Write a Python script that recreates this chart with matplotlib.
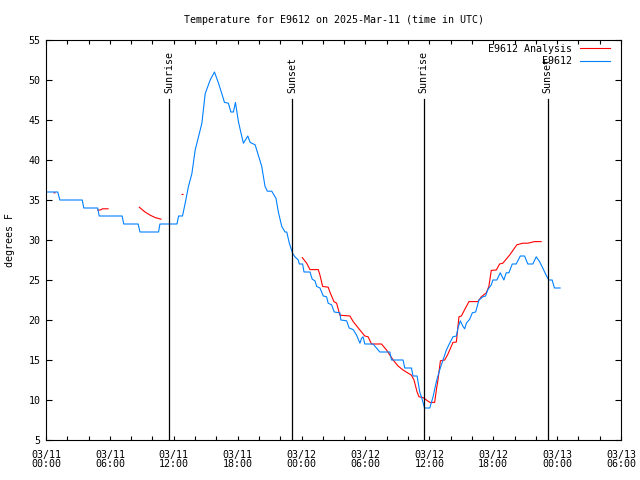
import numpy as np
import matplotlib
matplotlib.use("Agg")
import matplotlib.pyplot as plt
from matplotlib.ticker import FixedLocator, MultipleLocator

# ---- data (hours since 2025-03-11 00:00 UTC, degrees F) ----
obs_hours = [0.15, 1.1, 1.3, 3.4, 3.55, 4.85, 5.0, 7.15, 7.3, 8.65, 8.83, 10.57, 10.7,
             12.3, 12.45, 12.82, 13.07, 13.38, 13.7, 14.01, 14.32, 14.64, 14.95, 15.42,
             15.82, 16.2, 16.51, 16.76, 17.13, 17.36, 17.6, 17.79, 18.07, 18.29, 18.54,
             18.95, 19.17, 19.64, 19.94, 20.26, 20.57, 20.79, 21.2, 21.6, 21.82, 22.14,
             22.45, 22.61, 22.85, 23.17, 23.38, 23.69, 23.79, 24.1, 24.23, 24.79, 25.0,
             25.26, 25.42, 25.73, 26.04, 26.35, 26.5, 26.82, 27.07, 27.6, 27.69, 28.23,
             28.47, 28.85, 29.17, 29.48, 29.63, 29.78, 29.94, 30.72, 31.04, 31.35, 32.29,
             32.45, 33.53, 33.69, 34.32, 34.47, 34.85, 35.1, 35.3, 35.55, 36.04, 36.35,
             36.66, 36.97, 37.28, 37.6, 37.91, 38.22, 38.54, 38.69, 38.91, 39.16, 39.32,
             39.48, 39.79, 40.04, 40.35, 40.66, 41.03, 41.28, 41.5, 41.82, 41.97, 42.34,
             42.66, 43.0, 43.22, 43.47, 43.79, 44.16, 44.54, 44.94, 45.25, 45.72, 46.04,
             46.35, 46.65, 46.97, 47.22, 47.53, 47.75, 48.28]
obs_temps = [36, 36, 35, 35, 34, 34, 33, 33, 32, 32, 31, 31, 32,
             32, 33, 33, 34.6, 36.7, 38.3, 41.25, 42.9, 44.6, 48.3, 50,
             51, 49.6, 48.3, 47.2, 47.1, 46, 46, 47.2, 44.8, 43.5, 42.1,
             43, 42.2, 41.9, 40.6, 39.2, 36.7, 36.1, 36.1, 35.2, 33.5, 31.7,
             31, 31, 29.6, 28.3, 27.9, 27.5, 27.0, 27.0, 26.0, 26.0, 25.1,
             24.9, 24.2, 24.0, 23.0, 22.9, 22.1, 21.9, 21.0, 20.9, 20.0, 19.9,
             19.0, 18.8, 18.1, 17.1, 17.7, 17.9, 17.0, 17.0, 16.5, 16.0, 16.0,
             15.0, 15.0, 14.0, 14.0, 13.0, 13.0, 11.0, 10.2, 9.0, 9.0, 10.4,
             12.3, 13.75, 15.0, 16.25, 17.1, 17.9, 18.0, 19.0, 19.9, 19.2, 18.9,
             19.6, 20.1, 20.9, 21.0, 22.5, 22.9, 23.0, 23.8, 24.4, 25.0, 25.0,
             25.9, 25.0, 25.9, 25.9, 27.0, 27.0, 28.0, 28.0, 27.0, 27.0, 27.9,
             27.3, 26.5, 25.6, 25.0, 25.0, 24.0, 24.0]

ana_hours = [0.75, 0.85, np.nan,
             4.85, 5.1, 5.3, 5.83, np.nan,
             8.76, 9.3, 9.79, 10.26, 10.8, np.nan,
             12.78, 12.86, np.nan,
             24.07, 24.48, 24.79, 25.57, 25.73, 25.98, 26.5, 26.66, 27.04, 27.29, 27.6,
             28.54, 28.85, 29.48, 29.94, 30.25, 30.57, 31.51, 31.98, 32.6, 33.06, 33.53,
             34.32, 34.56, 34.85, 35.03, 35.41, 36.04, 36.5, 36.66, 36.81, 37.04, 37.44,
             37.75, 38.22, 38.54, 38.78, 39.01, 39.32, 39.72, 40.56, 40.88, 41.35, 41.59,
             41.82, 42.29, 42.6, 42.9, 43.53, 44.22, 44.78, 45.25, 45.88, 46.5]
ana_temps = [35.9, 35.9, np.nan,
             33.75, 33.75, 33.9, 33.9, np.nan,
             34.1, 33.5, 33.1, 32.8, 32.6, np.nan,
             35.7, 35.7, np.nan,
             27.8, 27.1, 26.3, 26.3, 25.6, 24.2, 24.1, 23.5, 22.3, 22.1, 20.6,
             20.5, 19.8, 18.75, 18.0, 17.9, 17.0, 17.0, 16.25, 15.0, 14.25, 13.75,
             13.1, 12.5, 11.0, 10.4, 10.3, 9.7, 9.7, 11.25, 12.5, 14.9, 15.0,
             15.75, 17.2, 17.25, 20.4, 20.5, 21.3, 22.3, 22.3, 22.9, 23.4, 24.2,
             26.2, 26.25, 27.0, 27.1, 28.1, 29.4, 29.6, 29.6, 29.8, 29.8]

sun_hours = [11.57, 23.13, 35.47, 47.1]
sun_labels = ["Sunrise", "Sunset", "Sunrise", "Sunset"]

tick_hours = [0, 6, 12, 18, 24, 30, 36, 42, 48, 54]
tick_labels = ["03/11\n00:00", "03/11\n06:00", "03/11\n12:00", "03/11\n18:00",
               "03/12\n00:00", "03/12\n06:00", "03/12\n12:00", "03/12\n18:00",
               "03/13\n00:00", "03/13\n06:00"]

title = "Temperature for E9612 on 2025-Mar-11 (time in UTC)"

FONT = "DejaVu Sans Mono"
FS = 7.2
plt.rcParams['font.family'] = [FONT]
plt.rcParams['font.size'] = FS

fig = plt.figure(figsize=(6.4, 4.8), dpi=100)
ax = fig.add_axes([46/640, 40/480, (621-46)/640, 400/480])

ax.plot(ana_hours, ana_temps, color="#ff0000", lw=0.8, label="E9612 Analysis")
ax.plot(obs_hours, obs_temps, color="#0080ff", lw=0.8, label="E9612")

for h, lab in zip(sun_hours, sun_labels):
    ax.axvline(h, ymin=0, ymax=(440-99)/400, color="black", lw=0.9)
    ax.text(h, (440-93)/400, lab, rotation=90, ha="center", va="bottom",
            transform=ax.get_xaxis_transform(), fontsize=FS)

ax.set_xlim(0, 54)
ax.set_ylim(5, 55)
ax.xaxis.set_major_locator(FixedLocator(tick_hours))
ax.set_xticklabels(tick_labels, linespacing=0.95)
ax.xaxis.set_minor_locator(MultipleLocator(2))
ax.yaxis.set_major_locator(MultipleLocator(5))
ax.tick_params(axis="both", which="both", direction="in", top=True, right=True,
               width=0.8, labelsize=FS)
ax.tick_params(axis="y", which="major", length=4.5, pad=4)
ax.tick_params(axis="x", which="major", length=3, pad=7)
ax.tick_params(axis="x", which="minor", length=3)
for s in ax.spines.values():
    s.set_linewidth(0.8)

ax.set_ylabel("degrees F", fontsize=FS, labelpad=10)

leg = ax.legend(loc="upper right", bbox_to_anchor=((610-46)/575, 1-4/400),
                frameon=False, markerfirst=False, handlelength=3.0,
                handletextpad=0.8, labelspacing=0.25, borderpad=0, borderaxespad=0,
                fontsize=FS)
for t in leg.get_texts():
    t.set_ha("right")

ax.text(0.5, 1 + 20/400, title, ha="center", va="center", fontsize=FS,
        transform=ax.transAxes)

fig.savefig("out.png", dpi=100)
